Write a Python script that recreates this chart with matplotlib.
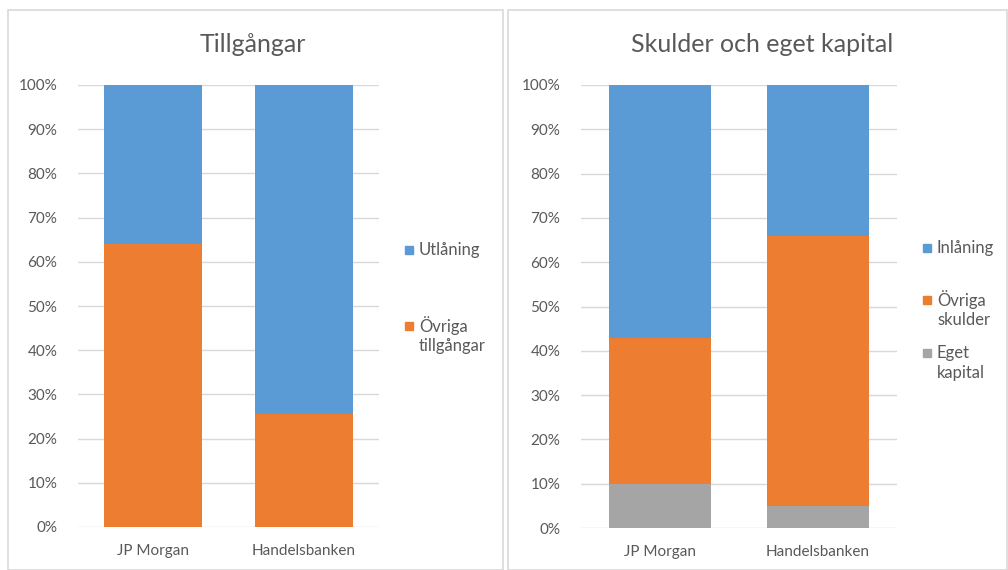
import matplotlib
matplotlib.use('Agg')
import matplotlib.pyplot as plt
from matplotlib.patches import Rectangle
import numpy as np

plt.rcParams['font.family'] = ['Lato', 'DejaVu Sans']

banks = ['JP Morgan', 'Handelsbanken']

# Tillgångar (andel, %)
ovriga_tillgangar = [64, 25.5]
utlaning = [36, 74.5]

# Skulder och eget kapital (andel, %)
eget_kapital = [10, 5]
ovriga_skulder = [33, 61]
inlaning = [57, 34]

blue = '#5B9BD5'
orange = '#ED7D31'
gray = '#A5A5A5'
txt = '#595959'

W, H = 1008, 570
fig = plt.figure(figsize=(W / 100, H / 100), dpi=100)

# panel frames
for x0, x1 in [(8, 503), (508, 1007)]:
    fig.patches.append(Rectangle((x0 / W, 0), (x1 - x0) / W, 1 - 10 / H,
                                 transform=fig.transFigure, fill=False,
                                 edgecolor='#D9D9D9', lw=1.2))

def style(ax):
    ax.set_ylim(0, 100)
    ax.set_xlim(-0.5, 1.5)
    ax.set_yticks(np.arange(0, 101, 10))
    ax.set_yticklabels([f'{v}%' for v in range(0, 101, 10)])
    ax.set_xticks([0, 1])
    ax.set_xticklabels(banks)
    ax.grid(axis='y', color='#D9D9D9', lw=1)
    ax.set_axisbelow(True)
    for s in ax.spines.values():
        s.set_visible(False)
    ax.tick_params(length=0, labelsize=11, colors=txt)
    ax.tick_params(axis='y', pad=15)
    ax.tick_params(axis='x', pad=12)

def legend_item(xs, y, color, lines):
    # small square + label lines, pixel positions from top-left
    fig.patches.append(Rectangle((xs / W, 1 - (y + 4) / H), 8 / W, 8 / H,
                                 transform=fig.transFigure, color=color))
    for i, line in enumerate(lines):
        fig.text((xs + 14) / W, 1 - (y + 20 * i) / H, line, ha='left',
                 va='center', fontsize=12, color=txt)

x = np.arange(len(banks))
w = 0.65

ax1 = fig.add_axes([78 / W, 1 - 527 / H, 301 / W, 442 / H])
style(ax1)
ax1.bar(x, ovriga_tillgangar, w, color=orange)
ax1.bar(x, utlaning, w, bottom=ovriga_tillgangar, color=blue)
legend_item(405, 250, blue, ['Utlåning'])
legend_item(405, 326, orange, ['Övriga', 'tillgångar'])

ax2 = fig.add_axes([581 / W, 1 - 528 / H, 316 / W, 443 / H])
style(ax2)
ax2.bar(x, eget_kapital, w, color=gray)
ax2.bar(x, ovriga_skulder, w, bottom=eget_kapital, color=orange)
ax2.bar(x, inlaning, w, bottom=np.add(eget_kapital, ovriga_skulder), color=blue)
legend_item(923, 248, blue, ['Inlåning'])
legend_item(923, 300, orange, ['Övriga', 'skulder'])
legend_item(923, 353, gray, ['Eget', 'kapital'])

fig.text(253 / W, 1 - 45 / H, 'Tillgångar', ha='center', va='center',
         fontsize=18, color=txt)
fig.text(762 / W, 1 - 45 / H, 'Skulder och eget kapital', ha='center',
         va='center', fontsize=18, color=txt)

fig.savefig('out.png', dpi=100, facecolor='white')
